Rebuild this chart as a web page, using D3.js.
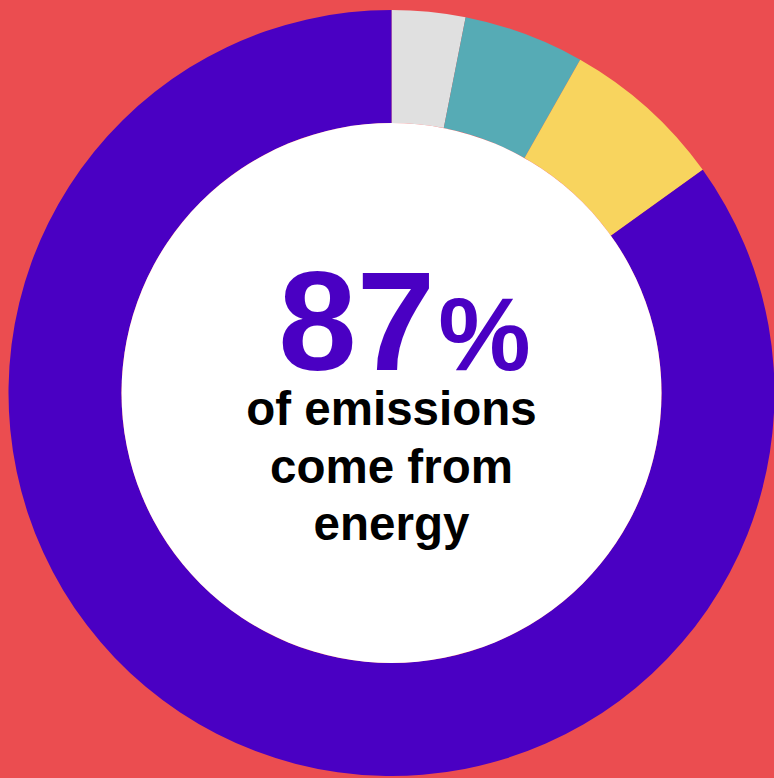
<!DOCTYPE html>
<html lang="en">
<head>
    <meta charset="UTF-8">
    <title>Emissions donut</title>
    <style>
        html, body { margin: 0; padding: 0; background: #eb4d50; overflow: hidden; }
        svg { display: block; }
    </style>
</head>
<body>
    <svg id="chart" width="774" height="778"></svg>

    <script src="https://d3js.org/d3.v7.min.js"></script>
    <script>
        // Share of emissions by sector, clockwise from 12 o'clock
        var sectors = ["Other", "Sector B", "Sector C", "Energy"];
        var shares = [3.1, 5.1, 6.9, 84.9];
        var colors = ["#e0e0e0", "#56abb5", "#f8d45e", "#4a00c3"];

        var headline = "87";
        var headlineUnit = "%";
        var captionLines = ["of emissions", "come from", "energy"];

        var width = 774, height = 778;
        var cx = 391.5, cy = 393;
        var outerR = 383, innerR = 270;

        var svg = d3.select("#chart");

        svg.append("rect")
            .attr("width", width)
            .attr("height", height)
            .attr("fill", "#eb4d50");

        var pie = d3.pie().sort(null).value(function(d) { return d; });
        var arc = d3.arc().innerRadius(innerR).outerRadius(outerR);

        var g = svg.append("g").attr("transform", "translate(" + cx + "," + cy + ")");

        g.selectAll("path")
            .data(pie(shares))
            .enter().append("path")
            .attr("d", arc)
            .attr("fill", function(d, i) { return colors[i]; });

        // white centre
        g.append("circle")
            .attr("r", innerR)
            .attr("fill", "#ffffff");

        // big number
        var big = g.append("text")
            .attr("x", 13)
            .attr("y", -23)
            .attr("text-anchor", "middle")
            .attr("font-family", "Liberation Sans, Arial, sans-serif")
            .attr("font-weight", "bold")
            .attr("fill", "#4a00c3");
        big.append("tspan").attr("font-size", "141px").text(headline);
        big.append("tspan").attr("font-size", "104px").attr("dx", 3).text(headlineUnit);

        // caption
        g.append("text")
            .attr("text-anchor", "middle")
            .attr("font-family", "Liberation Sans, Arial, sans-serif")
            .attr("font-weight", "bold")
            .attr("font-size", "47.5px")
            .attr("fill", "#000000")
            .selectAll("tspan")
            .data(captionLines)
            .enter().append("tspan")
            .attr("x", 0)
            .attr("y", function(d, i) { return 32 + i * 57.5; })
            .text(function(d) { return d; });
    </script>
</body>
</html>
